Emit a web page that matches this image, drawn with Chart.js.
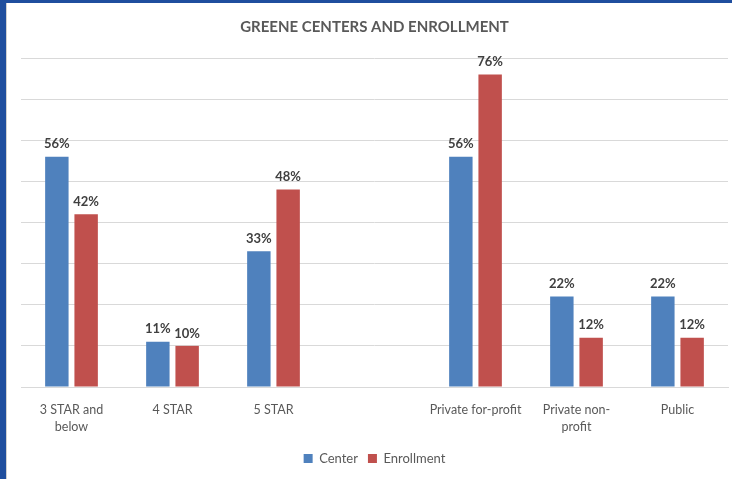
<!DOCTYPE html>
<html>
<head>
<meta charset="utf-8">
<script src="https://cdn.jsdelivr.net/npm/chart.js@4/dist/chart.umd.min.js"></script>
<style>
  body { margin: 0; background: #fff; }
  #frame {
    width: 726px; height: 476px;
    border-left: 6px solid #1f4e9e;
    border-top: 3px solid #1f4e9e;
    position: relative;
  }
  #frame::before {
    content: ''; position: absolute; left: 0; top: 0; bottom: 0; width: 1px; background: #d0d0d0;
  }
  canvas { display: block; }
</style>
</head>
<body>
<div id="frame"><canvas id="chart" width="726" height="476"></canvas></div>
<script>
const categories = [['3 STAR and', 'below'], '4 STAR', '5 STAR', '', 'Private for-profit', ['Private non-', 'profit'], 'Public'];
const centerValues = [56, 11, 33, null, 56, 22, 22];
const enrollmentValues = [42, 10, 48, null, 76, 12, 12];
const fontFamily = 'Lato, "Open Sans", sans-serif';

const valueLabels = {
  id: 'valueLabels',
  afterDatasetsDraw(chart) {
    const ctx = chart.ctx;
    ctx.save();
    ctx.font = 'bold 13px ' + fontFamily;
    ctx.fillStyle = '#404040';
    ctx.textAlign = 'center';
    ctx.textBaseline = 'bottom';
    chart.data.datasets.forEach((ds, i) => {
      chart.getDatasetMeta(i).data.forEach((bar, j) => {
        if (ds.data[j] == null) return;
        ctx.fillText(ds.data[j] + '%', bar.x, bar.y - 6);
      });
    });
    ctx.restore();
  }
};

new Chart(document.getElementById('chart'), {
  type: 'bar',
  data: {
    labels: categories,
    datasets: [
      { label: 'Center', data: centerValues, backgroundColor: '#4f81bd' },
      { label: 'Enrollment', data: enrollmentValues, backgroundColor: '#c0504d' }
    ]
  },
  options: {
    responsive: false,
    animation: false,
    layout: { padding: { left: 15, right: 4, top: 0, bottom: 4 } },
    datasets: { bar: { categoryPercentage: 0.58, barPercentage: 0.8 } },
    plugins: {
      title: {
        display: true,
        text: 'GREENE CENTERS AND ENROLLMENT',
        color: '#595959',
        font: { family: fontFamily, size: 15, weight: 'bold' },
        padding: { top: 15, bottom: 22 }
      },
      legend: {
        position: 'bottom',
        labels: {
          color: '#595959',
          font: { family: fontFamily, size: 13 },
          boxWidth: 9, boxHeight: 9, padding: 10
        }
      },
      tooltip: { enabled: false }
    },
    scales: {
      x: {
        grid: { display: false },
        border: { color: '#d9d9d9' },
        ticks: { color: '#595959', font: { family: fontFamily, size: 12.5, lineHeight: 1.4 }, maxRotation: 0, autoSkip: false, padding: 6 }
      },
      y: {
        min: 0, max: 80,
        ticks: { stepSize: 10, display: false },
        grid: { color: '#d9d9d9', drawTicks: false },
        border: { display: false }
      }
    }
  },
  plugins: [valueLabels]
});
</script>
</body>
</html>
